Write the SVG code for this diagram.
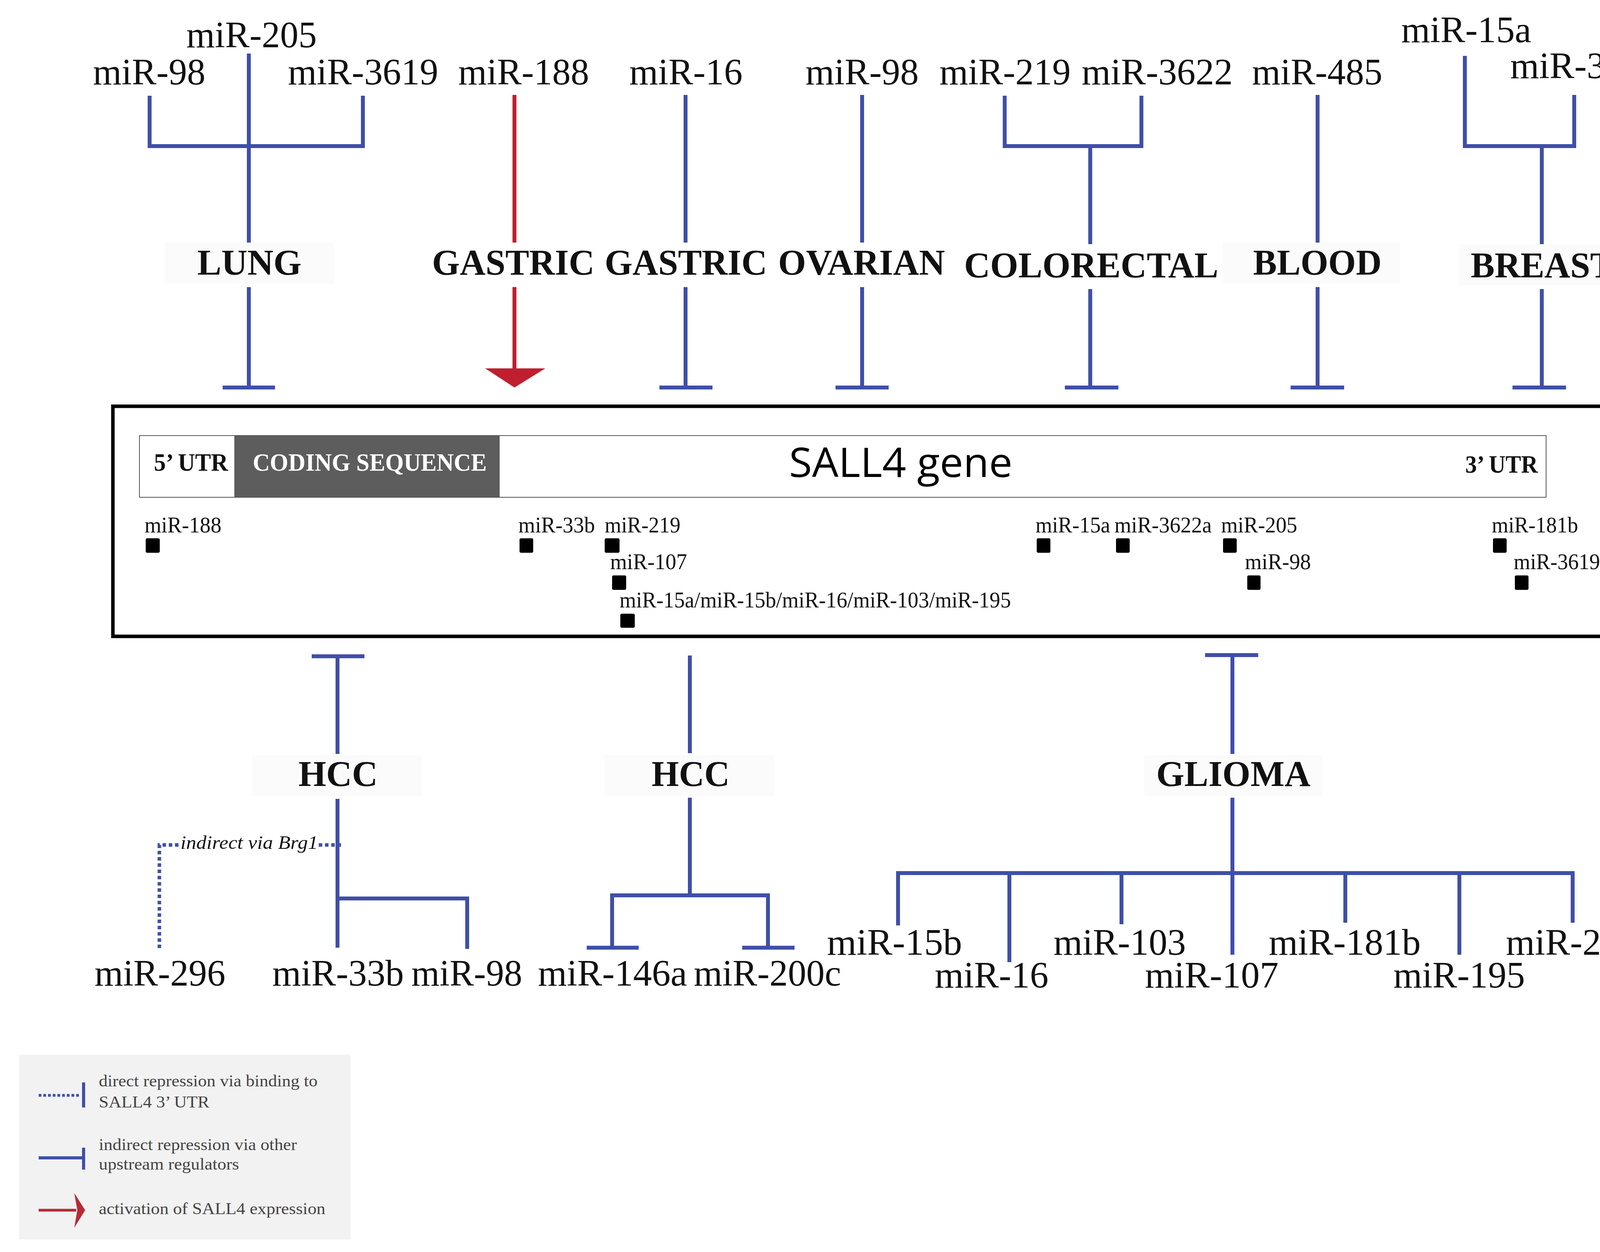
<svg xmlns="http://www.w3.org/2000/svg" width="4414" height="3205" viewBox="0 0 4414 3205">
<style>
.b{stroke:#3f4fa8;stroke-width:10;fill:none}
.r{stroke:#c01f2f;stroke-width:10;fill:none}
.d{stroke:#3f4fa8;stroke-width:9;fill:none;stroke-dasharray:9 7}
.mir{font-family:"Liberation Serif",serif;font-size:96px;fill:#111}
.lab{font-family:"Liberation Serif",serif;font-size:94px;font-weight:bold;fill:#111}
.sm{font-family:"Liberation Serif",serif;font-size:58px;fill:#111}
.lg{font-family:"Liberation Serif",serif;font-size:42px;fill:#444}
.bg{fill:#fbfbfb}
.sq{fill:#000}
</style>
<rect width="4414" height="3205" fill="#fff"/>
<g id="label-bgs">
<rect class="bg" x="421" y="621" width="435" height="105"/>
<rect class="bg" x="3130" y="621" width="455" height="105"/>
<rect class="bg" x="3735" y="625" width="430" height="105"/>
<rect class="bg" x="645" y="1933" width="435" height="105"/>
<rect class="bg" x="1547" y="1933" width="435" height="105"/>
<rect class="bg" x="2930" y="1933" width="455" height="105"/>
</g>
<g id="connectors">
<path class="b" d="M383 245V374H929V245M637 137V621M637 735V992M570 992H704"/>
<path class="r" d="M1317 243V621M1317 735V950"/>
<polygon points="1242,943 1396,943 1317,992" fill="#c01f2f"/>
<path class="b" d="M1755 243V621M1755 735V992M1688 992H1824"/>
<path class="b" d="M2207 243V621M2207 735V992M2139 992H2275"/>
<path class="b" d="M2572 245V374H2922V245M2791 374V625M2791 740V992M2726 992H2863"/>
<path class="b" d="M3373 243V621M3373 735V992M3304 992H3441"/>
<path class="b" d="M3750 143V374H4030V243M3947 374V625M3947 740V992M3872 992H4009"/>
<path class="b" d="M798 1680H933M864 1680V1930M864 2045V2426M864 2300H1196V2429"/>
<path class="d" d="M408 2427V2163H457M816 2163H875"/>
<path class="b" d="M1766 1678V1928M1766 2042V2292M1567 2426V2292H1966V2426M1502 2426H1635M1900 2426H2034"/>
<path class="b" d="M3085 1677H3221M3155 1677V1930M3155 2042V2444M2299 2369V2235H4026V2362M2584 2235V2463M2871 2235V2366M3444 2235V2362M3736 2235V2444"/>
</g>
<g id="top-mirs">
<text class="mir" x="477" y="121" textLength="334" lengthAdjust="spacingAndGlyphs">miR-205</text>
<text class="mir" x="238" y="216" textLength="288" lengthAdjust="spacingAndGlyphs">miR-98</text>
<text class="mir" x="737" y="216" textLength="385" lengthAdjust="spacingAndGlyphs">miR-3619</text>
<text class="mir" x="1173" y="216" textLength="335" lengthAdjust="spacingAndGlyphs">miR-188</text>
<text class="mir" x="1611" y="216" textLength="290" lengthAdjust="spacingAndGlyphs">miR-16</text>
<text class="mir" x="2062" y="216" textLength="290" lengthAdjust="spacingAndGlyphs">miR-98</text>
<text class="mir" x="2405" y="216" textLength="336" lengthAdjust="spacingAndGlyphs">miR-219</text>
<text class="mir" x="2769" y="216" textLength="387" lengthAdjust="spacingAndGlyphs">miR-3622</text>
<text class="mir" x="3205" y="216" textLength="334" lengthAdjust="spacingAndGlyphs">miR-485</text>
<text class="mir" x="3587" y="108" textLength="333" lengthAdjust="spacingAndGlyphs">miR-15a</text>
<text class="mir" x="3866" y="200" textLength="339" lengthAdjust="spacingAndGlyphs">miR-33b</text>
</g>
<g id="cancer-labels">
<text class="lab" x="505" y="703" textLength="267" lengthAdjust="spacingAndGlyphs">LUNG</text>
<text class="lab" x="1106" y="703" textLength="416" lengthAdjust="spacingAndGlyphs">GASTRIC</text>
<text class="lab" x="1548" y="703" textLength="416" lengthAdjust="spacingAndGlyphs">GASTRIC</text>
<text class="lab" x="1992" y="703" textLength="427" lengthAdjust="spacingAndGlyphs">OVARIAN</text>
<text class="lab" x="2468" y="710" textLength="651" lengthAdjust="spacingAndGlyphs">COLORECTAL</text>
<text class="lab" x="3208" y="703" textLength="329" lengthAdjust="spacingAndGlyphs">BLOOD</text>
<text class="lab" x="3765" y="710" textLength="367" lengthAdjust="spacingAndGlyphs">BREAST</text>
<text class="lab" x="764" y="2012" textLength="203" lengthAdjust="spacingAndGlyphs">HCC</text>
<text class="lab" x="1668" y="2012" textLength="200" lengthAdjust="spacingAndGlyphs">HCC</text>
<text class="lab" x="2960" y="2012" textLength="395" lengthAdjust="spacingAndGlyphs">GLIOMA</text>
</g>
<g id="gene">
<rect x="289" y="1040" width="3914" height="589" fill="#fff" stroke="#000" stroke-width="9"/>
<rect x="357" y="1115" width="3601" height="158" fill="#fff" stroke="#555" stroke-width="2"/>
<rect x="601" y="1115" width="677" height="158" fill="#5d5d5d" stroke="#555" stroke-width="2"/>
<text class="lab" style="font-size:64px" x="394" y="1205" textLength="190" lengthAdjust="spacingAndGlyphs">5’ UTR</text>
<text class="lab" style="font-size:64px;fill:#fff" x="647" y="1205" textLength="599" lengthAdjust="spacingAndGlyphs">CODING SEQUENCE</text>
<text style="font-family:'Open Sans',sans-serif;font-size:104px;fill:#000" x="2020" y="1221" textLength="572" lengthAdjust="spacingAndGlyphs">SALL4 gene</text>
<text class="lab" style="font-size:64px" x="3751" y="1210" textLength="186" lengthAdjust="spacingAndGlyphs">3’ UTR</text>
</g>
<g id="sites">
<text class="sm" x="370" y="1363" textLength="197" lengthAdjust="spacingAndGlyphs">miR-188</text>
<rect class="sq" x="373" y="1378" width="36" height="37" rx="4"/>
<text class="sm" x="1327" y="1363" textLength="196" lengthAdjust="spacingAndGlyphs">miR-33b</text>
<rect class="sq" x="1330" y="1378" width="35" height="37" rx="4"/>
<text class="sm" x="1548" y="1363" textLength="194" lengthAdjust="spacingAndGlyphs">miR-219</text>
<rect class="sq" x="1548" y="1378" width="38" height="37" rx="4"/>
<text class="sm" x="1562" y="1457" textLength="197" lengthAdjust="spacingAndGlyphs">miR-107</text>
<rect class="sq" x="1567" y="1473" width="36" height="37" rx="4"/>
<text class="sm" x="1586" y="1555" textLength="1002" lengthAdjust="spacingAndGlyphs">miR-15a/miR-15b/miR-16/miR-103/miR-195</text>
<rect class="sq" x="1588" y="1571" width="37" height="36" rx="4"/>
<text class="sm" x="2651" y="1363" textLength="191" lengthAdjust="spacingAndGlyphs">miR-15a</text>
<rect class="sq" x="2654" y="1378" width="35" height="37" rx="4"/>
<text class="sm" x="2853" y="1363" textLength="249" lengthAdjust="spacingAndGlyphs">miR-3622a</text>
<rect class="sq" x="2857" y="1378" width="35" height="37" rx="4"/>
<text class="sm" x="3126" y="1363" textLength="195" lengthAdjust="spacingAndGlyphs">miR-205</text>
<rect class="sq" x="3131" y="1378" width="35" height="37" rx="4"/>
<text class="sm" x="3187" y="1457" textLength="169" lengthAdjust="spacingAndGlyphs">miR-98</text>
<rect class="sq" x="3193" y="1473" width="34" height="37" rx="4"/>
<text class="sm" x="3819" y="1363" textLength="221" lengthAdjust="spacingAndGlyphs">miR-181b</text>
<rect class="sq" x="3822" y="1378" width="35" height="37" rx="4"/>
<text class="sm" x="3875" y="1457" textLength="221" lengthAdjust="spacingAndGlyphs">miR-3619</text>
<rect class="sq" x="3878" y="1473" width="35" height="37" rx="4"/>
</g>
<g id="bottom-mirs">
<text style="font-family:'Liberation Serif',serif;font-style:italic;font-size:48px;fill:#111" x="462" y="2173" textLength="352" lengthAdjust="spacingAndGlyphs">indirect via Brg1</text>
<text class="mir" x="242" y="2523" textLength="335" lengthAdjust="spacingAndGlyphs">miR-296</text>
<text class="mir" x="697" y="2523" textLength="337" lengthAdjust="spacingAndGlyphs">miR-33b</text>
<text class="mir" x="1053" y="2523" textLength="284" lengthAdjust="spacingAndGlyphs">miR-98</text>
<text class="mir" x="1377" y="2523" textLength="382" lengthAdjust="spacingAndGlyphs">miR-146a</text>
<text class="mir" x="1776" y="2523" textLength="377" lengthAdjust="spacingAndGlyphs">miR-200c</text>
<text class="mir" x="2117" y="2444" textLength="346" lengthAdjust="spacingAndGlyphs">miR-15b</text>
<text class="mir" x="2697" y="2444" textLength="339" lengthAdjust="spacingAndGlyphs">miR-103</text>
<text class="mir" x="3248" y="2444" textLength="389" lengthAdjust="spacingAndGlyphs">miR-181b</text>
<text class="mir" x="3855" y="2444" textLength="339" lengthAdjust="spacingAndGlyphs">miR-219</text>
<text class="mir" x="2393" y="2528" textLength="291" lengthAdjust="spacingAndGlyphs">miR-16</text>
<text class="mir" x="2931" y="2528" textLength="342" lengthAdjust="spacingAndGlyphs">miR-107</text>
<text class="mir" x="3567" y="2528" textLength="337" lengthAdjust="spacingAndGlyphs">miR-195</text>
</g>
<g id="legend">
<rect x="49" y="2700" width="848" height="473" fill="#f2f2f2"/>
<path d="M99 2804H204" stroke="#3f4fa8" stroke-width="7" stroke-dasharray="7 5"/>
<path d="M214 2771V2835" stroke="#3f4fa8" stroke-width="8"/>
<text class="lg" x="253" y="2781" textLength="560" lengthAdjust="spacingAndGlyphs">direct repression via binding to</text>
<text class="lg" x="253" y="2835" textLength="283" lengthAdjust="spacingAndGlyphs">SALL4 3’ UTR</text>
<path d="M99 2964H214M214 2938V2994" stroke="#3f4fa8" stroke-width="8" fill="none"/>
<text class="lg" x="253" y="2944" textLength="507" lengthAdjust="spacingAndGlyphs">indirect repression via other</text>
<text class="lg" x="253" y="2994" textLength="359" lengthAdjust="spacingAndGlyphs">upstream regulators</text>
<path d="M99 3098H195" stroke="#b82a35" stroke-width="7"/>
<polygon points="190,3054 218,3098 190,3143 198,3098" fill="#b82a35"/>
<text class="lg" x="253" y="3108" textLength="580" lengthAdjust="spacingAndGlyphs">activation of SALL4 expression</text>
</g>
</svg>
